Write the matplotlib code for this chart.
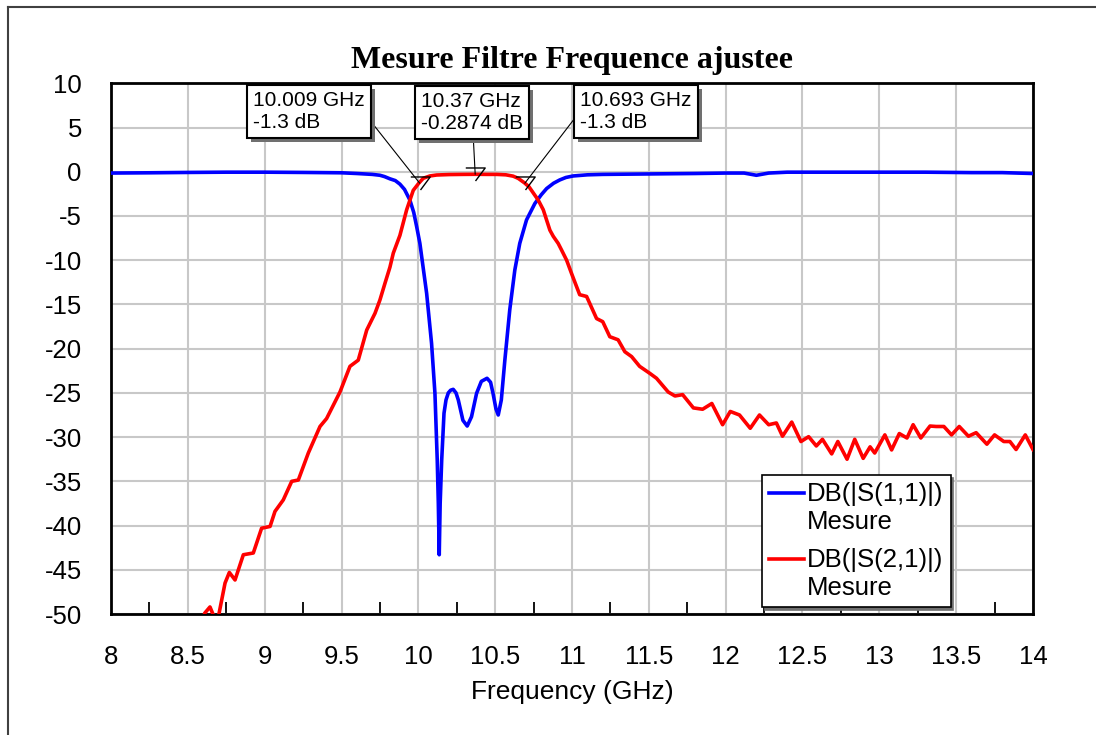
import matplotlib
matplotlib.use("Agg")
import matplotlib.pyplot as plt
import matplotlib.patheffects as pe
from matplotlib.lines import Line2D
from matplotlib.legend_handler import HandlerLine2D
import numpy as np

# ---------------- data ----------------
s11_freq = [8.0, 8.25, 8.5, 8.75, 9.0, 9.25, 9.5, 9.6, 9.65, 9.7, 9.75, 9.78, 9.815, 9.85,
            9.88, 9.91, 9.945, 9.97, 9.989, 10.01, 10.054, 10.086, 10.108, 10.123, 10.13,
            10.136, 10.142, 10.152, 10.167, 10.18, 10.195, 10.21, 10.227, 10.245, 10.26,
            10.29, 10.318, 10.346, 10.379, 10.41, 10.447, 10.47, 10.486, 10.505, 10.52,
            10.54, 10.563, 10.595, 10.628, 10.66, 10.704, 10.758, 10.8, 10.835, 10.88,
            10.92, 10.96, 11.007, 11.1, 11.2, 11.5, 11.8, 12.0, 12.12, 12.2, 12.28, 12.4,
            12.7, 13.0, 13.3, 13.6, 13.8, 14.0]
s11_db = [-0.15, -0.12, -0.08, -0.05, -0.05, -0.08, -0.12, -0.2, -0.25, -0.3, -0.4, -0.55, -0.8,
          -1.0, -1.4, -2.0, -3.2, -4.6, -6.2, -8.1, -13.75, -19.4, -25.05, -32.6, -37.5,
          -43.3, -37.5, -32.6, -27.3, -25.8, -25.0, -24.7, -24.6, -25.0, -25.8,
          -28.1, -28.75, -27.7, -25.05, -23.7, -23.35, -23.8, -25.05, -26.8, -27.5,
          -25.8, -21.3, -15.6, -11.1, -8.1, -5.45, -3.6, -2.6, -1.9, -1.3,
          -0.93, -0.65, -0.48, -0.35, -0.3, -0.25, -0.2, -0.15, -0.15, -0.4, -0.15, -0.05,
          -0.05, -0.05, -0.05, -0.1, -0.1, -0.2]

s21_freq = [8.55, 8.61, 8.644, 8.67, 8.70, 8.742, 8.77, 8.807, 8.861, 8.926, 8.98, 9.035,
            9.067, 9.121, 9.176, 9.219, 9.284, 9.36, 9.403, 9.49, 9.555, 9.609, 9.664,
            9.718, 9.75, 9.783, 9.815, 9.837, 9.88, 9.924, 9.967, 10.005, 10.032, 10.075,
            10.119, 10.2, 10.29, 10.37, 10.45, 10.51, 10.57, 10.617, 10.65, 10.69, 10.72,
            10.748, 10.78, 10.813, 10.856, 10.878, 10.91, 10.932, 10.965, 10.997, 11.03,
            11.05, 11.095, 11.16, 11.2, 11.246, 11.3, 11.344, 11.388, 11.44, 11.507, 11.55,
            11.626, 11.67, 11.72, 11.79, 11.85, 11.91, 11.98, 12.03, 12.09, 12.16, 12.22,
            12.28, 12.33, 12.37, 12.43, 12.49, 12.54, 12.59, 12.63, 12.69, 12.73, 12.79,
            12.84, 12.895, 12.94, 12.97, 13.036, 13.08, 13.13, 13.18, 13.22, 13.27, 13.33,
            13.37, 13.42, 13.47, 13.52, 13.58, 13.63, 13.70, 13.75, 13.81, 13.85, 13.89,
            13.95, 14.0]
s21_db = [-53.0, -49.9, -49.2, -50.3, -50.2, -46.5, -45.3, -46.15, -43.3, -43.1, -40.3, -40.1,
          -38.4, -37.1, -35.0, -34.85, -31.8, -28.8, -27.9, -24.9, -22.0, -21.3, -17.9,
          -16.0, -14.5, -12.6, -10.8, -9.2, -7.2, -4.3, -2.1, -1.25, -0.74, -0.48,
          -0.37, -0.32, -0.3, -0.29, -0.3, -0.3, -0.35, -0.5, -0.75, -1.25, -1.7,
          -2.4, -3.2, -4.3, -6.6, -7.3, -8.1, -8.85, -10.0, -11.5, -13.0,
          -13.9, -14.1, -16.6, -16.95, -18.65, -19.0, -20.35, -20.9, -22.0, -22.8, -23.35,
          -24.9, -25.35, -25.2, -26.7, -26.85, -26.2, -28.6, -27.1, -27.5, -29.0, -27.5,
          -28.6, -28.4, -29.9, -28.3, -30.5, -29.95, -31.0, -30.25, -31.9, -30.5, -32.5,
          -30.25, -32.4, -31.1, -31.8, -29.75, -31.45, -29.6, -30.1, -28.6, -30.1, -28.75,
          -28.8, -28.8, -29.75, -28.8, -29.9, -29.5, -30.8, -29.75, -30.5, -30.5, -31.4,
          -29.75, -31.4]

marker_freq = [10.009, 10.37, 10.693]
marker_db = [-1.3, -0.2874, -1.3]
marker_box_xy = [(8.924, 9.13), (10.017, 9.02), (11.052, 9.13)]
marker_relpos = [(1.0, 0.45), (0.51, 0.0), (0.0, 0.5)]

x_ticks = [8, 8.5, 9, 9.5, 10, 10.5, 11, 11.5, 12, 12.5, 13, 13.5, 14]
y_ticks = [-50, -45, -40, -35, -30, -25, -20, -15, -10, -5, 0, 5, 10]

series_labels = ["DB(|S(1,1)|)\nMesure", "DB(|S(2,1)|)\nMesure"]
title = "Mesure Filtre Frequence ajustee"
xlabel = "Frequency (GHz)"

# ---------------- figure ----------------
plt.rcParams['font.family'] = ['Liberation Sans', 'DejaVu Sans']
fig = plt.figure(figsize=(10.96, 7.35), dpi=100)
ax = fig.add_axes([0.1013, 0.1646, 0.8412, 0.7221])

l1, = ax.plot(s11_freq, s11_db, color='#0000ff', lw=2.6, solid_joinstyle='round', zorder=3)
l2, = ax.plot(s21_freq, s21_db, color='#ff0000', lw=2.6, solid_joinstyle='round', zorder=3)

ax.set_xlim(8, 14)
ax.set_ylim(-50, 10)
ax.set_xticks(x_ticks)
ax.set_xticklabels(['%g' % t for t in x_ticks])
ax.set_yticks(y_ticks)
ax.set_yticklabels(['%g' % t for t in y_ticks])
ax.set_xticks(np.arange(8.25, 14, 0.5), minor=True)
ax.tick_params(axis='both', which='major', length=0, labelsize=18.5)
ax.tick_params(axis='x', which='major', pad=22)
ax.tick_params(axis='y', which='major', pad=21)
ax.tick_params(axis='x', which='minor', direction='in', length=8.5, width=1.3,
               color='black', bottom=True, top=False)
ax.grid(True, which='major', color='#c8c8c8', lw=1.5, zorder=1)
ax.set_axisbelow(True)
for sp in ax.spines.values():
    sp.set_linewidth(2.0)
    sp.set_color('black')

ax.set_title(title, fontfamily=['Liberation Serif'], fontweight='bold', fontsize=23, pad=11)
ax.set_xlabel(xlabel, fontsize=19, labelpad=8)

# markers
tri = [(-1, 0.67), (1, 0.67), (0, -0.67)]
ax.plot(marker_freq, marker_db, linestyle='none', marker=tri, ms=14, mfc='none',
        mec='black', mew=1.0, zorder=5)
for f, v, (bx, by), rp in zip(marker_freq, marker_db, marker_box_xy, marker_relpos):
    txt = f"{f:g} GHz\n{v:g} dB"
    ann = ax.annotate(txt, xy=(f, v), xytext=(bx, by), textcoords='data',
                      ha='left', va='top', fontsize=15, zorder=6,
                      bbox=dict(boxstyle='square,pad=0.3', fc='white', ec='black', lw=1.5),
                      arrowprops=dict(arrowstyle='-', color='black', lw=0.8,
                                      shrinkA=0, shrinkB=0, relpos=rp, patchA=None),
                      annotation_clip=False)
    ann.get_bbox_patch().set_path_effects([
        pe.SimplePatchShadow(offset=(3, -3), shadow_rgbFace='#707070', alpha=1.0),
        pe.Normal()])


class TopLine(HandlerLine2D):
    def create_artists(self, legend, orig_handle, xdescent, ydescent, width, height,
                       fontsize, trans):
        arts = super().create_artists(legend, orig_handle, xdescent, ydescent, width,
                                      height, fontsize, trans)
        for a in arts:
            if isinstance(a, Line2D):
                a.set_ydata(np.asarray(a.get_ydata()) + 0.6 * fontsize)
        return arts


leg = ax.legend([l1, l2], series_labels, loc='lower left', bbox_to_anchor=(0.706, 0.013),
                borderaxespad=0, fontsize=18.5, frameon=True, fancybox=False,
                edgecolor='black', framealpha=1, handlelength=1.35, handletextpad=0.12,
                labelspacing=0.55, borderpad=0.28,
                shadow={'color': '#707070', 'alpha': 1.0},
                handler_map={Line2D: TopLine()})
leg.get_frame().set_linewidth(1.2)
leg.set_zorder(7)

# figure frame (top and left edges)
fig.add_artist(Line2D([0.0073, 0.0073], [0.0, 0.9905], transform=fig.transFigure,
                      color='#404040', lw=1.5))
fig.add_artist(Line2D([0.0073, 1.0], [0.9905, 0.9905], transform=fig.transFigure,
                      color='#404040', lw=1.5))

fig.savefig('out.png', dpi=100)
